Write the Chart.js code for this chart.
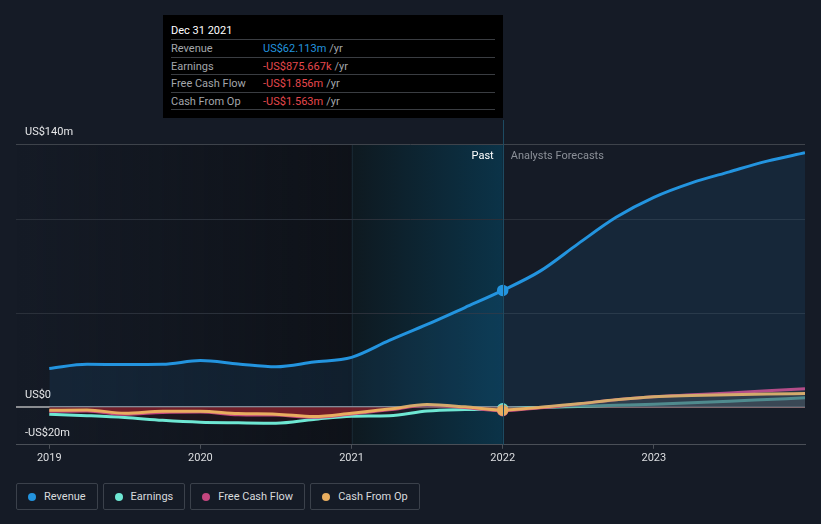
<!DOCTYPE html>
<html>
<head>
<meta charset="utf-8">
<script src="https://cdn.jsdelivr.net/npm/chart.js@4.4.1/dist/chart.umd.min.js"></script>
<style>
  html, body { margin: 0; padding: 0; background: #151b26; font-family: Roboto, "Open Sans", sans-serif; }
  #wrap { position: relative; width: 821px; height: 524px; overflow: hidden; }
  #chartBox { position: absolute; left: 0; top: 0; width: 821px; height: 472px; }
  #tip { position: absolute; left: 163px; top: 15px; width: 340px; height: 103px; background: #000; box-sizing: border-box; padding: 8px 8px 0 8px; font-size: 11px; }
  #tip .title { color: #fff; height: 16px; line-height: 16px; border-bottom: 1px solid #3a3d42; }
  #tip .row { height: 16.5px; line-height: 17px; border-bottom: 1px solid #3a3d42; color: #a3a6ab; display: flex; }
  #tip .row .lab { width: 92px; }
  #tip .row .unit { color: #a3a6ab; margin-left: 3px; }
  #legend { position: absolute; left: 16px; top: 483px; display: flex; gap: 5px; }
  .item { height: 27px; box-sizing: border-box; border: 1px solid #3b414b; border-radius: 2px; display: flex; align-items: center; padding: 0 11px 0 11px; color: #d8dadd; font-size: 11px; }
  .dot { width: 8px; height: 8px; border-radius: 50%; margin-right: 8px; }
</style>
</head>
<body>
<div id="wrap">
  <div id="chartBox"><canvas id="c"></canvas></div>
  <div id="tip"></div>
  <div id="legend"></div>
</div>
<script>
// quarterly x positions (years)
const quarters = [2019, 2019.25, 2019.5, 2019.75, 2020, 2020.25, 2020.5, 2020.75, 2021, 2021.25, 2021.5, 2021.75, 2022,
                  2022.25, 2022.5, 2022.75, 2023, 2023.25, 2023.5, 2023.75, 2024];
// values in US$ millions
const revenue  = [20.6, 22.8, 22.7, 22.8, 24.8, 23.0, 21.5, 24.0, 26.5, 35.5, 44.0, 53.0, 62.113,
                  72.5, 87.0, 101.0, 111.6, 119.3, 125.2, 130.9, 135.3];
const earnings = [-3.7, -4.5, -5.5, -7.0, -8.0, -8.3, -8.5, -6.5, -4.8, -4.5, -2.0, -1.2, -0.875667,
                  -0.2, 0.4, 1.0, 1.6, 2.4, 3.2, 4.1, 5.0];
const freeCashFlow = [-2.2, -2.0, -3.8, -2.8, -2.6, -4.0, -4.2, -5.4, -3.6, -1.4, 1.0, -0.2, -1.856,
                  -0.3, 1.6, 4.0, 5.6, 6.6, 7.6, 8.7, 9.8];
const cashFromOp = [-1.6, -1.5, -3.2, -2.2, -2.1, -3.4, -3.7, -5.0, -3.2, -1.0, 1.4, 0.2, -1.563,
                  0.0, 1.8, 4.0, 5.6, 6.2, 6.6, 7.0, 7.3];
const yTicks = [-20, 0, 50, 100, 140];
const yTickLabels = ['-US$20m', 'US$0', '', '', 'US$140m'];
const xTicks = [2019, 2020, 2021, 2022, 2023];
const seriesNames = ['Revenue', 'Earnings', 'Free Cash Flow', 'Cash From Op'];
const seriesColors = ['#2394df', '#6ee7d3', '#c4467f', '#e8ad5f'];
const nowIndex = 12;

const fmt = v => {
  const a = Math.abs(v);
  const s = a >= 1 ? a.toFixed(3) + 'm' : (a * 1000).toFixed(3) + 'k';
  return (v < 0 ? '-' : '') + 'US$' + s;
};

// tooltip box
const tip = document.getElementById('tip');
let html = '<div class="title">Dec 31 2021</div>';
[revenue, earnings, freeCashFlow, cashFromOp].forEach((arr, i) => {
  const v = arr[nowIndex];
  const col = v < 0 ? '#e5484d' : '#2394df';
  html += '<div class="row"><span class="lab">' + seriesNames[i] + '</span><span style="color:' + col + '">' + fmt(v) + '</span><span class="unit">/yr</span></div>';
});
tip.innerHTML = html;

// legend
const legend = document.getElementById('legend');
seriesNames.forEach((n, i) => {
  legend.innerHTML += '<div class="item"><span class="dot" style="background:' + seriesColors[i] + '"></span>' + n + '</div>';
});

const pts = arr => arr.map((v, i) => ({ x: quarters[i], y: v }));
const ptRadius = ctx => ctx.dataIndex === nowIndex ? 5 : 0;

const backdrop = {
  id: 'backdrop',
  beforeDraw(chart) {
    const { ctx, chartArea: a, scales: { x } } = chart;
    const x21 = x.getPixelForValue(2021), x22 = x.getPixelForValue(2022);
    ctx.save();
    let g = ctx.createLinearGradient(a.left, 0, x21, 0);
    g.addColorStop(0, 'rgba(10,12,16,0)');
    g.addColorStop(1, 'rgba(10,12,16,0.6)');
    ctx.fillStyle = g;
    ctx.fillRect(a.left, a.top, x21 - a.left, a.bottom - a.top);
    g = ctx.createLinearGradient(x21, 0, x22, 0);
    g.addColorStop(0, '#0e1920');
    g.addColorStop(1, '#0b3348');
    ctx.fillStyle = g;
    ctx.fillRect(x21, a.top, x22 - x21, a.bottom - a.top);
    ctx.fillStyle = '#172631';
    ctx.fillRect(Math.round(x21), a.top, 1, a.bottom - a.top);
    ctx.restore();
  },
  afterDatasetsDraw(chart) {
    const { ctx, chartArea: a, scales: { x } } = chart;
    const x22 = x.getPixelForValue(2022);
    ctx.save();
    ctx.fillStyle = '#1d4b62';
    ctx.fillRect(Math.round(x22), 120, 1, a.bottom - 120);
    ctx.font = '11px Roboto, sans-serif';
    ctx.textBaseline = 'middle';
    ctx.textAlign = 'right';
    ctx.fillStyle = '#ffffff';
    ctx.fillText('Past', x22 - 9, a.top + 12);
    ctx.textAlign = 'left';
    ctx.fillStyle = '#8b9098';
    ctx.fillText('Analysts Forecasts', x22 + 8, a.top + 12);
    ctx.restore();
  }
};

new Chart(document.getElementById('c'), {
  type: 'line',
  data: {
    datasets: [
      { label: seriesNames[0], data: pts(revenue), borderColor: seriesColors[0], backgroundColor: seriesColors[0],
        fill: { target: 'origin', above: 'rgba(35,148,223,0.1)', below: 'rgba(0,0,0,0)' }, order: 0 },
      { label: seriesNames[3], data: pts(cashFromOp), borderColor: seriesColors[3], backgroundColor: seriesColors[3],
        fill: { target: 'origin', above: 'rgba(70,72,78,0.35)', below: 'rgba(135,34,46,0.55)' }, order: 1 },
      { label: seriesNames[2], data: pts(freeCashFlow), borderColor: seriesColors[2], backgroundColor: seriesColors[2],
        fill: { target: 'origin', above: 'rgba(70,72,78,0.35)', below: 'rgba(135,34,46,0.55)' }, order: 2 },
      { label: seriesNames[1], data: pts(earnings), borderColor: seriesColors[1], backgroundColor: seriesColors[1],
        fill: { target: 'origin', above: 'rgba(80,82,88,0.5)', below: 'rgba(60,20,28,0.35)' }, order: 3 }
    ]
  },
  options: {
    responsive: true,
    maintainAspectRatio: false,
    animation: false,
    layout: { padding: { left: -2, right: 16, top: 144, bottom: 4 } },
    elements: {
      line: { borderWidth: 3, cubicInterpolationMode: 'monotone' },
      point: { radius: ptRadius, hoverRadius: ptRadius, borderColor: '#ffffff', borderWidth: 1.5 }
    },
    plugins: { legend: { display: false }, tooltip: { enabled: false } },
    scales: {
      x: {
        type: 'linear', min: 2018.78, max: 2024,
        afterBuildTicks: s => { s.ticks = xTicks.map(v => ({ value: v })); },
        grid: { display: true, drawOnChartArea: false, drawTicks: true, tickLength: 4, color: '#4a4f57' },
        border: { display: true, color: '#4a4f57', width: 1 },
        ticks: { color: '#dcdee1', font: { family: 'Roboto', size: 11 }, padding: 3, callback: v => String(v) }
      },
      y: {
        min: -20, max: 140,
        afterBuildTicks: s => { s.ticks = yTicks.map(v => ({ value: v })); },
        grid: {
          drawTicks: false,
          color: c => c.tick.value === 0 ? '#8a8c90' : c.tick.value === 140 ? '#3e434b' : c.tick.value === -20 ? 'rgba(0,0,0,0)' : '#2a303a',
          lineWidth: c => c.tick.value === 0 ? 2 : 1
        },
        border: { display: false },
        ticks: {
          mirror: true, padding: 9, labelOffset: -12,
          color: '#e6e7e9', font: { family: 'Roboto', size: 11 },
          callback: v => yTickLabels[yTicks.indexOf(v)] || ''
        }
      }
    }
  },
  plugins: [backdrop]
});
</script>
</body>
</html>
